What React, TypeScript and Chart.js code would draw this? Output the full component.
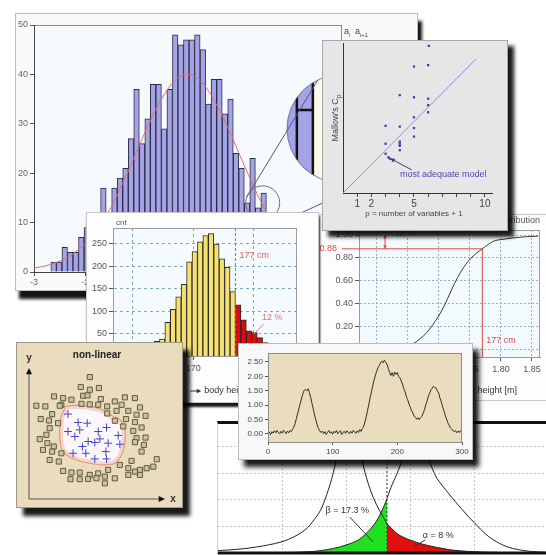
import React, { useEffect, useRef } from 'react';
import { Chart, registerables } from 'chart.js';

Chart.register(...registerables);

const FONT = '"Liberation Sans", Arial, Helvetica, sans-serif';
Chart.defaults.font.family = FONT;
Chart.defaults.font.size = 10;
Chart.defaults.color = '#555';

/* ---------------- Panel 1: histogram with normal fit ---------------- */
const histBinStart = -2.67;
const histBinWidth = 0.108;
const histCounts = [2, 2, 5, 4, 4, 7, 9, 10, 12, 17, 12, 17, 19, 21, 27, 37, 26, 31, 38, 38, 29, 37, 48, 46, 47, 47, 48, 45, 34, 39, 39, 32, 35, 24, 21, 14, 23, 13, 16, 9, 6, 4, 3, 2, 1, 1];
const histTicksX = [-3, -2, -1, 0, 1, 2, 3];
const histTicksY = [0, 10, 20, 30, 40, 50];
const fitX = [-3, -2.75, -2.5, -2.25, -2, -1.75, -1.5, -1.25, -1, -0.75, -0.5, -0.25, 0, 0.25, 0.5, 0.75, 1, 1.25, 1.5, 1.75, 2, 2.25, 2.5, 2.75, 3];
const fitY = [0.8, 1.3, 2.2, 3.6, 5.8, 8.9, 13.0, 18.3, 24.2, 30.1, 35.1, 38.7, 40.0, 38.7, 35.1, 30.1, 24.2, 18.3, 13.0, 8.9, 5.8, 3.6, 2.2, 1.3, 0.8];
// magnifier decoration (data coordinates)
const lensSmall = [1.47, 14];
const lensBig = [3.0, 29];
const lensUpper = [[1.16, 15.2], [2.55, 38.9]];
const lensLower = [[2.12, 11.5], [4.16, 21.1]];
const lensBarEdges = [2.137, 2.45];
const lensBarTop = 32.8;

/* ---------------- Panel 2: body height histogram ---------------- */
const heightBinStart = 160.8;
const heightBinWidth = 0.9;
const heightCounts = [6, 12, 21, 33, 38, 75, 104, 132, 160, 210, 233, 255, 269, 273, 250, 217, 198, 144, 114, 81, 56, 52, 41, 30, 21, 13, 8, 4];
const heightCut = 177;
const heightTicksX = [160, 170, 180];
const heightTicksY = [50, 100, 150, 200, 250];

/* ---------------- Panel 3: Mallow's Cp ---------------- */
const cpP = [6.05, 5, 6, 4, 5, 6, 6, 6, 5, 3, 4, 5, 5, 3, 4, 4, 4, 4, 3, 3.2, 3.3];
const cpValue = [10.3, 8.85, 8.95, 6.85, 6.7, 6.6, 6.15, 5.65, 5.3, 4.7, 4.65, 4.55, 3.95, 3.45, 3.6, 3.45, 3.3, 3.0, 2.75, 2.5, 2.4];
const cpRefLine = [0, 9.4];
const cpTicks = [1, 2, 3, 4, 5, 6, 7, 8, 9, 10];
const cpLabelled = [1, 2, 5, 10];

/* ---------------- Panel 4: cumulative distribution ---------------- */
const cdfX = [1.575, 1.6, 1.62, 1.64, 1.66, 1.67, 1.68, 1.69, 1.7, 1.71, 1.72, 1.73, 1.74, 1.75, 1.76, 1.77, 1.78, 1.79, 1.8, 1.82, 1.84, 1.86];
const cdfY = [0.0, 0.005, 0.01, 0.03, 0.06, 0.1, 0.15, 0.22, 0.3, 0.4, 0.52, 0.63, 0.72, 0.79, 0.84, 0.88, 0.92, 0.95, 0.96, 0.975, 0.985, 0.99];
const cdfTicksX = [1.6, 1.65, 1.7, 1.75, 1.8, 1.85];
const cdfTicksY = [0, 0.2, 0.4, 0.6, 0.8, 1.0];
const cdfCutX = 1.77;
const cdfCutY = 0.88;

/* ---------------- Panel 5: non-linear classes ---------------- */
const sqX = [44.7, 38.1, 44.7, 51.4, 39.8, 43.0, 18.4, 25.1, 31.2, 23.8, 52.8, 70.5, 77.9, 5.4, 12.0, 22.6, 38.6, 44.7, 50.9, 57.5, 63.1, 68.1, 81.6, 17.0, 57.5, 64.4, 73.0, 79.1, 85.7, 8.6, 14.7, 21.4, 63.1, 71.3, 77.9, 15.2, 12.8, 69.3, 76.7, 82.8, 7.9, 13.5, 18.2, 79.1, 85.7, 10.3, 17.0, 23.8, 84.5, 77.9, 15.2, 21.9, 82.8, 93.9, 91.4, 75.4, 66.8, 73.0, 77.9, 81.6, 86.5, 58.2, 25.1, 31.2, 37.3, 44.7, 50.9, 55.8, 63.1, 30.5, 37.3, 43.5, 49.6, 55.8, 73.0, 81.6];
const sqY = [93.1, 85.5, 83.4, 84.7, 78.8, 79.1, 78.3, 77.0, 75.8, 71.9, 76.3, 77.6, 77.0, 71.2, 70.7, 71.2, 72.6, 72.2, 72.0, 70.7, 74.5, 71.9, 69.9, 64.8, 65.3, 67.3, 67.3, 64.3, 63.5, 61.0, 59.9, 57.9, 59.7, 61.0, 58.7, 54.1, 49.0, 55.4, 52.0, 54.6, 45.7, 42.6, 40.1, 46.4, 46.9, 37.5, 36.2, 34.9, 41.3, 43.4, 29.8, 28.6, 36.2, 30.4, 24.7, 29.1, 26.0, 23.5, 20.9, 22.2, 23.5, 22.2, 21.4, 20.2, 20.2, 18.4, 19.6, 17.1, 15.8, 15.1, 15.1, 15.3, 15.8, 12.0, 18.4, 18.4];
const crX = [28.7, 36.1, 42.8, 37.3, 28.7, 33.7, 50.9, 57.0, 65.6, 52.1, 43.5, 48.4, 58.2, 66.8, 39.3, 32.4, 41.8, 56.5, 48.4, 57.0];
const crY = [64.8, 58.4, 57.9, 52.8, 51.5, 47.7, 51.5, 54.6, 48.5, 45.9, 43.9, 43.1, 42.6, 41.8, 40.1, 34.9, 34.9, 36.2, 30.6, 30.6];
const blobX = [27.5, 37.3, 52.1, 59.5, 66.8, 70.5, 70.5, 68.1, 63.1, 54.5, 44.7, 34.9, 27.5, 23.8, 22.6, 23.3, 26.3];
const blobY = [70.7, 71.4, 68.9, 64.3, 60.5, 52.8, 43.9, 33.7, 27.3, 26.0, 27.3, 29.8, 33.7, 38.8, 49.0, 61.7, 68.9];

/* ---------------- Panel 6: signal ---------------- */
const signalStep = 2;
const signalValues = [
  0.02, 0.06, -0.02, 0.08, 0.03, 0.11, 0.04, 0.12, 0.05, 0.00, 0.09, 0.03, 0.13, 0.07, 0.01, 0.10, 0.04, 0.12, 0.08, 0.16,
  0.24, 0.36, 0.55, 0.72, 0.90, 1.07, 1.25, 1.40, 1.52, 1.54, 1.50,
  1.57, 1.44, 1.27, 1.06, 0.86, 0.66, 0.48, 0.32, 0.19, 0.11, 0.05,
  0.10, 0.01, 0.08, -0.02, 0.05, 0.12, 0.03, 0.07, -0.01, 0.09, 0.04, 0.12, 0.01, 0.06, 0.11, -0.02, 0.05, 0.09, 0.02, 0.11, 0.06, 0.00, 0.09, 0.03, 0.13, 0.07, 0.02, 0.11, 0.05, 0.15, 0.09,
  0.19, 0.27, 0.42, 0.60, 0.82, 1.04, 1.27, 1.46, 1.68, 1.86, 2.04, 2.16, 2.30, 2.37, 2.47, 2.53, 2.47, 2.56, 2.49,
  2.42, 2.28, 2.14, 2.03, 2.13, 2.00, 2.15, 2.07, 2.13, 1.99, 1.95, 1.84, 1.73, 1.57, 1.46, 1.29, 1.19, 1.04, 0.93, 0.81, 0.73, 0.61, 0.58, 0.51, 0.56, 0.49,
  0.57, 0.61, 0.73, 0.84, 1.01, 1.14, 1.31, 1.41, 1.53, 1.59, 1.66, 1.61,
  1.59, 1.49, 1.41, 1.24, 1.11, 0.94, 0.81, 0.65, 0.53, 0.39, 0.31, 0.21, 0.17, 0.11, 0.09, 0.11, 0.04, 0.10, 0.05, 0.12, 0.07,
];
const signalTicksX = [0, 100, 200, 300];
const signalTicksY = [0, 0.5, 1.0, 1.5, 2.0, 2.5];

/* ---------------- Panel 7: test errors ---------------- */
const bellX = [-2.0, -1.8, -1.6, -1.4, -1.2, -1.0, -0.8, -0.6, -0.5, -0.4, -0.3, -0.2, -0.1, 0, 0.1, 0.2, 0.3, 0.4, 0.5, 0.6, 0.64, 0.7, 0.8, 0.9, 1.0, 1.1, 1.2, 1.3, 1.4, 1.5, 1.6, 1.7, 1.8, 1.9, 2.0, 2.1, 2.2, 2.3, 2.4, 2.5, 2.6, 2.8, 3.0, 3.14];
const h0Density = [0.018, 0.024, 0.032, 0.045, 0.062, 0.085, 0.125, 0.19, 0.25, 0.32, 0.44, 0.6, 0.82, 1.05, 1.1, 0.82, 0.6, 0.45, 0.34, 0.255, 0.22, 0.19, 0.145, 0.118, 0.098, 0.08, 0.066, 0.054, 0.044, 0.035, 0.026, 0.02, 0.016, 0.012, 0.01, 0.008, 0.006, 0.005, 0.004, 0.003, 0.002, 0.001, 0.001, 0];
const h1Density = [0, 0, 0, 0.001, 0.002, 0.003, 0.005, 0.009, 0.012, 0.018, 0.025, 0.034, 0.045, 0.06, 0.077, 0.1, 0.14, 0.19, 0.26, 0.36, 0.41, 0.49, 0.6, 0.73, 0.92, 1.08, 0.88, 0.7, 0.58, 0.51, 0.45, 0.39, 0.335, 0.28, 0.23, 0.18, 0.135, 0.1, 0.072, 0.05, 0.035, 0.017, 0.008, 0.005];
const criticalValue = 0.64;
const testGridX = [-1, 0, 1, 2];
const testGridY = [0.2, 0.4, 0.6, 0.8];

/* ---------------- helpers ---------------- */
function txt(ctx: any, s: string, x: number, y: number, o: any = {}) {
  ctx.save();
  ctx.fillStyle = o.color || '#555';
  ctx.font = `${o.bold ? 'bold ' : ''}${o.size || 10}px ${FONT}`;
  ctx.textAlign = o.align || 'left';
  ctx.textBaseline = o.baseline || 'middle';
  ctx.fillText(s, x, y);
  ctx.restore();
}
function line(ctx: any, x1: number, y1: number, x2: number, y2: number, color: string, w = 1, dash: number[] = []) {
  ctx.save();
  ctx.strokeStyle = color;
  ctx.lineWidth = w;
  ctx.setLineDash(dash);
  ctx.beginPath();
  ctx.moveTo(x1, y1);
  ctx.lineTo(x2, y2);
  ctx.stroke();
  ctx.restore();
}
function head(ctx: any, x1: number, y1: number, x2: number, y2: number, color: string, size = 5) {
  const a = Math.atan2(y2 - y1, x2 - x1);
  ctx.save();
  ctx.fillStyle = color;
  ctx.beginPath();
  ctx.moveTo(x2, y2);
  ctx.lineTo(x2 - size * Math.cos(a - 0.45), y2 - size * Math.sin(a - 0.45));
  ctx.lineTo(x2 - size * Math.cos(a + 0.45), y2 - size * Math.sin(a + 0.45));
  ctx.closePath();
  ctx.fill();
  ctx.restore();
}
function areaFill(ctx: any, a: any, color: string, frame?: string) {
  ctx.save();
  ctx.fillStyle = color;
  ctx.fillRect(a.left, a.top, a.right - a.left, a.bottom - a.top);
  if (frame) {
    ctx.strokeStyle = frame;
    ctx.lineWidth = 1;
    ctx.strokeRect(a.left + 0.5, a.top + 0.5, a.right - a.left - 1, a.bottom - a.top - 1);
  }
  ctx.restore();
}
const fixW = (w: number) => (s: any) => { s.width = w; };
const fixH = (h: number) => (s: any) => { s.height = h; };
const setTicks = (vals: number[]) => (s: any) => { s.ticks = vals.map((v) => ({ value: v })); };
const baseOptions = (padding: any) => ({
  responsive: false,
  animation: false,
  layout: { autoPadding: false, padding },
  plugins: { legend: { display: false }, tooltip: { enabled: false } },
});

/* ---------------- chart configs ---------------- */
function histConfig() {
  const bars = histCounts.map((c, i) => ({ x: histBinStart + (i + 0.5) * histBinWidth, y: c }));
  const fit = fitX.map((x, i) => ({ x, y: fitY[i] }));
  const decor = {
    id: 'histDecor',
    beforeDraw(chart: any) {
      const { ctx, chartArea: a } = chart;
      areaFill(ctx, a, '#f6f9fd');
      line(ctx, a.left, a.top + 0.5, a.right + 0.5, a.top + 0.5, '#8a8a8a');
      line(ctx, a.right + 0.5, a.top, a.right + 0.5, a.bottom, '#8a8a8a');
    },
    afterDraw(chart: any) {
      const { ctx, scales: { x, y } } = chart;
      const px = (v: number) => x.getPixelForValue(v);
      const py = (v: number) => y.getPixelForValue(v);
      const bx = px(lensBig[0]), by = py(lensBig[1]), br = 54;
      ctx.save();
      ctx.beginPath();
      ctx.arc(bx, by, br, 0, Math.PI * 2);
      ctx.clip();
      ctx.fillStyle = '#fcf9e8';
      ctx.fillRect(bx - br, by - br, br * 2, br * 2);
      ctx.fillStyle = '#a3a3e6';
      ctx.fillRect(bx - br, by - br, px(lensBarEdges[1]) - (bx - br), br * 2);
      line(ctx, px(lensBarEdges[0]), by - br, px(lensBarEdges[0]), by + br, '#111', 2.5);
      line(ctx, px(lensBarEdges[1]), by - br, px(lensBarEdges[1]), by + br, '#111', 2.5);
      line(ctx, px(lensBarEdges[0]), py(lensBarTop), px(lensBarEdges[1]), py(lensBarTop), '#111', 2.5);
      ctx.restore();
      ctx.save();
      ctx.strokeStyle = '#6d7aa6';
      ctx.lineWidth = 1;
      ctx.beginPath();
      ctx.arc(bx, by, br, 0, Math.PI * 2);
      ctx.stroke();
      ctx.beginPath();
      ctx.strokeStyle = '#707070';
      ctx.arc(px(lensSmall[0]), py(lensSmall[1]), 17, 0, Math.PI * 2);
      ctx.stroke();
      ctx.restore();
      line(ctx, px(lensUpper[0][0]), py(lensUpper[0][1]), px(lensUpper[1][0]), py(lensUpper[1][1]), '#4a5a90');
      line(ctx, px(lensLower[0][0]), py(lensLower[0][1]), px(lensLower[1][0]), py(lensLower[1][1]), '#4a5a90');
      const a = chart.chartArea;
      txt(ctx, 'a', a.right + 3, a.top + 7, { size: 9, color: '#444' });
      txt(ctx, 'i', a.right + 8, a.top + 10, { size: 6, color: '#444' });
      txt(ctx, 'a', a.right + 14, a.top + 7, { size: 9, color: '#444' });
      txt(ctx, 'i+1', a.right + 19, a.top + 10, { size: 6, color: '#444' });
    },
  };
  return {
    type: 'bar',
    data: {
      datasets: [
        { type: 'line', data: fit, borderColor: '#e07070', borderWidth: 1, pointRadius: 0, tension: 0.4, order: 0 },
        { type: 'bar', data: bars, backgroundColor: '#a3a3e6', borderColor: '#2b2b45', borderWidth: 1, barPercentage: 1, categoryPercentage: 1, order: 1 },
      ],
    },
    options: {
      ...baseOptions({ left: 0, right: 76, top: 11, bottom: 0 }),
      scales: {
        x: {
          type: 'linear', min: -3, max: 3, offset: false,
          afterFit: fixH(18), afterBuildTicks: setTicks(histTicksX),
          ticks: { color: '#666', padding: 1, maxRotation: 0, font: { size: 9 } },
          grid: { drawOnChartArea: false, tickLength: 4, color: '#555', offset: false },
          border: { color: '#444' },
        },
        y: {
          min: 0, max: 50,
          afterFit: fixW(18), afterBuildTicks: setTicks(histTicksY),
          ticks: { color: '#666', padding: 2, font: { size: 9 } },
          grid: { drawOnChartArea: false, tickLength: 4, color: '#555' },
          border: { color: '#444' },
        },
      },
    },
    plugins: [decor],
  };
}

function heightConfig() {
  const bars = heightCounts.map((c, i) => ({ x: heightBinStart + (i + 0.5) * heightBinWidth, y: c }));
  const colors = bars.map((b) => (b.x > heightCut ? '#dd0b0b' : '#f4e170'));
  const decor = {
    id: 'heightDecor',
    beforeDraw(chart: any) { areaFill(chart.ctx, chart.chartArea, '#f4fafd'); },
    afterDraw(chart: any) {
      const { ctx, chartArea: a, scales: { x, y } } = chart;
      ctx.save();
      ctx.strokeStyle = '#9a9a9a';
      ctx.strokeRect(a.left + 0.5, a.top + 0.5, a.right - a.left - 1, a.bottom - a.top);
      ctx.restore();
      const cx = x.getPixelForValue(heightCut);
      line(ctx, cx, a.top, cx, a.bottom, '#d45a5a', 1, [3, 2]);
      txt(ctx, 'cnt', a.left + 3, a.top - 5, { size: 8, color: '#555' });
      txt(ctx, '177 cm', cx + 4, y.getPixelForValue(225), { size: 9, color: '#d86464' });
      txt(ctx, '12 %', x.getPixelForValue(181.4), y.getPixelForValue(85), { size: 9, color: '#d87878' });
      line(ctx, x.getPixelForValue(181.7), y.getPixelForValue(72), x.getPixelForValue(180.0), y.getPixelForValue(48), '#c88');
      const ax = x.getPixelForValue(170);
      const ay = a.bottom + 35;
      line(ctx, ax - 3, ay, ax + 6, ay, '#333');
      head(ctx, ax - 3, ay, ax + 8, ay, '#333', 5);
      txt(ctx, 'body height [cm]', ax + 11, ay, { size: 9, color: '#333' });
    },
  };
  return {
    type: 'bar',
    data: { datasets: [{ data: bars, backgroundColor: colors, borderColor: '#2a2a2a', borderWidth: 1, barPercentage: 1, categoryPercentage: 1 }] },
    options: {
      ...baseOptions({ left: 0, right: 21, top: 15, bottom: 0 }),
      scales: {
        x: {
          type: 'linear', min: 156.7, max: 187.2, offset: false,
          afterFit: fixH(46), afterBuildTicks: setTicks(heightTicksX),
          ticks: { color: '#555', padding: 3, maxRotation: 0, font: { size: 9 } },
          grid: { color: '#86a6c6', tickColor: '#555', tickLength: 4, offset: false },
          border: { color: '#888', dash: [3, 3] },
        },
        y: {
          min: 0, max: 285.7,
          afterFit: fixW(26), afterBuildTicks: setTicks(heightTicksY),
          ticks: { color: '#555', padding: 2, font: { size: 9 } },
          grid: { color: '#86a6c6', tickColor: '#555', tickLength: 4 },
          border: { color: '#888', dash: [3, 3] },
        },
      },
    },
    plugins: [decor],
  };
}

function cpConfig() {
  const pts = cpP.map((p, i) => ({ x: p, y: cpValue[i] }));
  const ref = cpRefLine.map((v) => ({ x: v, y: v }));
  const decor = {
    id: 'cpDecor',
    afterDraw(chart: any) {
      const { ctx, chartArea: a, scales: { x, y } } = chart;
      txt(ctx, 'p = number of variables + 1', x.getPixelForValue(5), a.bottom + 21, { size: 8, color: '#444', align: 'center' });
      ctx.save();
      ctx.translate(a.left - 7, (a.top + a.bottom) / 2);
      ctx.rotate(-Math.PI / 2);
      ctx.font = `9px ${FONT}`;
      const main = "Mallow's C";
      const w1 = ctx.measureText(main).width;
      ctx.font = `7px ${FONT}`;
      const w2 = ctx.measureText('p').width;
      const s0 = -(w1 + w2) / 2;
      ctx.fillStyle = '#444';
      ctx.textBaseline = 'middle';
      ctx.font = `9px ${FONT}`;
      ctx.fillText(main, s0, 0);
      ctx.font = `7px ${FONT}`;
      ctx.fillText('p', s0 + w1, 3);
      ctx.restore();
      txt(ctx, 'most adequate model', x.getPixelForValue(4.01), y.getPixelForValue(1.27), { size: 9, color: '#4a4ab8' });
      const x1 = x.getPixelForValue(4.84), y1 = y.getPixelForValue(1.62);
      const x2 = x.getPixelForValue(3.33), y2 = y.getPixelForValue(2.42);
      line(ctx, x1, y1, x2, y2, '#3a3a80');
      head(ctx, x1, y1, x2, y2, '#3a3a80', 5);
    },
  };
  return {
    type: 'scatter',
    data: {
      datasets: [
        { data: pts, pointStyle: 'rect', pointRadius: 1.6, backgroundColor: '#3c3cb4', borderColor: '#3c3cb4', borderWidth: 0, order: 0 },
        { data: ref, showLine: true, borderColor: '#8d8ddc', borderWidth: 1, pointRadius: 0, order: 1 },
      ],
    },
    options: {
      ...baseOptions({ left: 0, right: 15, top: 2, bottom: 0 }),
      scales: {
        x: {
          type: 'linear', min: 0, max: 10.5,
          afterFit: fixH(37), afterBuildTicks: setTicks(cpTicks),
          ticks: { color: '#444', padding: 1, maxRotation: 0, font: { size: 10 }, callback: (v: any) => (cpLabelled.includes(v) ? String(v) : '') },
          grid: { drawOnChartArea: false, tickLength: 4, color: '#444' },
          border: { color: '#333' },
        },
        y: {
          type: 'linear', min: 0, max: 10.5,
          afterFit: fixW(20),
          ticks: { display: false },
          grid: { drawOnChartArea: false, drawTicks: false },
          border: { color: '#333' },
        },
      },
    },
    plugins: [decor],
  };
}

function cdfConfig() {
  const pts = cdfX.map((x, i) => ({ x, y: cdfY[i] }));
  const decor = {
    id: 'cdfDecor',
    beforeDraw(chart: any) { areaFill(chart.ctx, chart.chartArea, '#f3fafd'); },
    afterDraw(chart: any) {
      const { ctx, chartArea: a, scales: { x, y } } = chart;
      ctx.save();
      ctx.strokeStyle = '#9a9a9a';
      ctx.strokeRect(a.left + 0.5, a.top + 0.5, a.right - a.left - 1, a.bottom - a.top);
      ctx.restore();
      const cx = x.getPixelForValue(cdfCutX);
      const cy = y.getPixelForValue(cdfCutY);
      line(ctx, a.left - 17, cy, cx, cy, '#e04848');
      line(ctx, cx, cy, cx, a.bottom, '#e04848');
      txt(ctx, '0.88', a.left - 22, cy, { size: 9, color: '#e04848', align: 'right' });
      txt(ctx, '177 cm', cx + 4, y.getPixelForValue(0.08), { size: 9, color: '#e04848' });
      const ax = x.getPixelForValue(1.613);
      const yTop = y.getPixelForValue(1.0), yBot = cy;
      line(ctx, ax, yTop, ax, yBot, '#e04848');
      head(ctx, ax, yBot, ax, yTop, '#e04848', 4);
      head(ctx, ax, yTop, ax, yBot, '#e04848', 4);
      txt(ctx, '12 %', x.getPixelForValue(1.629), y.getPixelForValue(1.017), { size: 9, color: '#e04848' });
      txt(ctx, 'Cumulative distribution', a.right, a.top - 9, { size: 9, color: '#555', align: 'right' });
      const ex = 198, ey = a.bottom + 34;
      txt(ctx, 'body height [m]', ex, ey, { size: 9, color: '#333', align: 'right' });
    },
  };
  return {
    type: 'line',
    data: { datasets: [{ data: pts, borderColor: '#3a3a3a', borderWidth: 1, pointRadius: 0, cubicInterpolationMode: 'monotone' }] },
    options: {
      ...baseOptions({ left: 0, right: 6, top: 15, bottom: 0 }),
      scales: {
        x: {
          type: 'linear', min: 1.571, max: 1.863,
          afterFit: fixH(43), afterBuildTicks: setTicks(cdfTicksX),
          ticks: { color: '#555', padding: 3, maxRotation: 0, font: { size: 9 }, callback: (v: any) => Number(v).toFixed(2) },
          grid: { color: '#8fb0d0', tickColor: '#555', tickLength: 4 },
          border: { color: '#888', dash: [2, 2] },
        },
        y: {
          min: -0.061, max: 1.0435,
          afterFit: fixW(40), afterBuildTicks: setTicks(cdfTicksY),
          ticks: { color: '#555', padding: 2, font: { size: 9 }, callback: (v: any) => Number(v).toFixed(2) },
          grid: { color: '#8fb0d0', tickColor: '#555', tickLength: 4 },
          border: { color: '#888', dash: [2, 2] },
        },
      },
    },
    plugins: [decor],
  };
}

function smoothClosed(ctx: any, pts: number[][]) {
  const n = pts.length;
  ctx.beginPath();
  ctx.moveTo(pts[0][0], pts[0][1]);
  for (let i = 0; i < n; i++) {
    const p0 = pts[(i - 1 + n) % n], p1 = pts[i], p2 = pts[(i + 1) % n], p3 = pts[(i + 2) % n];
    ctx.bezierCurveTo(
      p1[0] + (p2[0] - p0[0]) / 6, p1[1] + (p2[1] - p0[1]) / 6,
      p2[0] - (p3[0] - p1[0]) / 6, p2[1] - (p3[1] - p1[1]) / 6,
      p2[0], p2[1]
    );
  }
  ctx.closePath();
}

function classConfig() {
  const squares = sqX.map((x, i) => ({ x, y: sqY[i] }));
  const crosses = crX.map((x, i) => ({ x, y: crY[i] }));
  const decor = {
    id: 'classDecor',
    beforeDatasetsDraw(chart: any) {
      const { ctx, scales: { x, y } } = chart;
      const pts = blobX.map((bx, i) => [x.getPixelForValue(bx), y.getPixelForValue(blobY[i])]);
      ctx.save();
      smoothClosed(ctx, pts);
      ctx.fillStyle = '#fbf7fb';
      ctx.fill();
      ctx.clip();
      ctx.strokeStyle = 'rgba(238,170,160,0.45)';
      ctx.lineWidth = 7;
      ctx.stroke();
      ctx.restore();
      ctx.save();
      smoothClosed(ctx, pts);
      ctx.strokeStyle = '#e09a70';
      ctx.lineWidth = 1.2;
      ctx.stroke();
      ctx.restore();
    },
    afterDraw(chart: any) {
      const { ctx, chartArea: a, scales: { x, y } } = chart;
      const ox = x.getPixelForValue(0), oy = y.getPixelForValue(0);
      const ty = y.getPixelForValue(100), rx = x.getPixelForValue(100);
      line(ctx, ox, oy, ox, ty + 4, '#555');
      head(ctx, ox, oy, ox, ty, '#111', 7);
      line(ctx, ox, oy, rx - 4, oy, '#555');
      head(ctx, ox, oy, rx, oy, '#111', 7);
      txt(ctx, 'y', ox, ty - 10, { size: 10, bold: true, color: '#333', align: 'center' });
      txt(ctx, 'x', rx + 8, oy, { size: 10, bold: true, color: '#333', align: 'center' });
      txt(ctx, 'non-linear', (a.left + a.right) / 2, 12, { size: 10, bold: true, color: '#222', align: 'center' });
    },
  };
  return {
    type: 'scatter',
    data: {
      datasets: [
        { data: crosses, pointStyle: 'cross', pointRadius: 4, borderColor: '#4444c4', borderWidth: 1, order: 0 },
        { data: squares, pointStyle: 'rect', pointRadius: 3.6, backgroundColor: '#cfc39f', borderColor: '#5e5a40', borderWidth: 1, order: 1 },
      ],
    },
    options: {
      ...baseOptions({ left: 12, right: 17, top: 25, bottom: 8 }),
      scales: {
        x: { type: 'linear', min: 0, max: 100, display: false },
        y: { type: 'linear', min: 0, max: 100, display: false },
      },
    },
    plugins: [decor],
  };
}

function signalConfig() {
  const pts = signalValues.map((v, i) => ({ x: i * signalStep, y: v }));
  const decor = {
    id: 'signalDecor',
    beforeDraw(chart: any) { areaFill(chart.ctx, chart.chartArea, '#e9ddbd'); },
    afterDraw(chart: any) {
      const { ctx, chartArea: a } = chart;
      ctx.save();
      ctx.strokeStyle = '#8a8a8a';
      ctx.strokeRect(a.left + 0.5, a.top + 0.5, a.right - a.left - 1, a.bottom - a.top);
      ctx.restore();
    },
  };
  return {
    type: 'line',
    data: { datasets: [{ data: pts, borderColor: '#2e2e2e', borderWidth: 1, pointRadius: 0 }] },
    options: {
      ...baseOptions({ left: 0, right: 10, top: 9, bottom: 0 }),
      scales: {
        x: {
          type: 'linear', min: 0, max: 300,
          afterFit: fixH(17), afterBuildTicks: setTicks(signalTicksX),
          ticks: { color: '#444', padding: 2, maxRotation: 0, font: { size: 8 } },
          grid: { drawOnChartArea: false, tickLength: 3, color: '#555' },
          border: { color: '#666' },
        },
        y: {
          min: -0.28, max: 2.81,
          afterFit: fixW(29), afterBuildTicks: setTicks(signalTicksY),
          ticks: { color: '#444', padding: 2, font: { size: 8 }, callback: (v: any) => Number(v).toFixed(2) },
          grid: { drawOnChartArea: false, tickLength: 3, color: '#555' },
          border: { color: '#666' },
        },
      },
    },
    plugins: [decor],
  };
}

function testConfig() {
  const h0 = bellX.map((x, i) => ({ x, y: h0Density[i] }));
  const h1 = bellX.map((x, i) => ({ x, y: h1Density[i] }));
  const beta = h1.filter((p) => p.x <= criticalValue + 1e-9);
  const alpha = h0.filter((p) => p.x >= criticalValue - 1e-9);
  const decor = {
    id: 'testDecor',
    afterDraw(chart: any) {
      const { ctx, chartArea: a, scales: { x, y } } = chart;
      line(ctx, a.left, y.getPixelForValue(0), a.right, y.getPixelForValue(0), '#111', 3);
      txt(ctx, 'β = 17.3 %', x.getPixelForValue(0.02), y.getPixelForValue(0.32), { size: 9, color: '#333', align: 'center' });
      line(ctx, x.getPixelForValue(0.06), y.getPixelForValue(0.27), x.getPixelForValue(0.42), y.getPixelForValue(0.085), '#333');
      txt(ctx, 'α = 8 %', x.getPixelForValue(1.2), y.getPixelForValue(0.135), { size: 9, color: '#333' });
      line(ctx, x.getPixelForValue(1.24), y.getPixelForValue(0.1), x.getPixelForValue(1.06), y.getPixelForValue(0.045), '#333');
    },
  };
  const curve = { borderWidth: 1, pointRadius: 0, cubicInterpolationMode: 'monotone' };
  return {
    type: 'line',
    data: {
      datasets: [
        { ...curve, data: h0, borderColor: '#222', fill: false, order: 0 },
        { ...curve, data: h1, borderColor: '#222', fill: false, order: 0 },
        { data: [{ x: criticalValue, y: 0 }, { x: criticalValue, y: 0.97 }], borderColor: '#333', borderWidth: 1, borderDash: [2, 2], pointRadius: 0, order: 0 },
        { ...curve, data: beta, borderWidth: 0, borderColor: 'rgba(0,0,0,0)', backgroundColor: '#21e021', fill: 'origin', order: 1 },
        { ...curve, data: alpha, borderWidth: 0, borderColor: 'rgba(0,0,0,0)', backgroundColor: '#e01010', fill: 'origin', order: 1 },
      ],
    },
    options: {
      ...baseOptions({ left: 0, right: 0, top: 0, bottom: 0 }),
      scales: {
        x: {
          type: 'linear', min: -2.0, max: 3.125,
          afterFit: fixH(0), afterBuildTicks: setTicks(testGridX),
          ticks: { display: false },
          grid: { color: '#c4c4c4', drawTicks: false },
          border: { display: false, dash: [2, 2] },
        },
        y: {
          min: -0.015, max: 0.97,
          afterFit: fixW(0), afterBuildTicks: setTicks(testGridY),
          ticks: { display: false },
          grid: { color: '#c4c4c4', drawTicks: false },
          border: { display: false, dash: [2, 2] },
        },
      },
    },
    plugins: [decor],
  };
}

/* ---------------- components ---------------- */
function ChartCanvas({ left, top, width, height, make }: { left: number; top: number; width: number; height: number; make: () => any }) {
  const ref = useRef<HTMLCanvasElement | null>(null);
  useEffect(() => {
    if (!ref.current) return;
    const chart = new Chart(ref.current, make());
    return () => chart.destroy();
  }, []);
  return (
    <canvas
      ref={ref}
      width={width}
      height={height}
      style={{ position: 'absolute', left, top, width, height, display: 'block' }}
    />
  );
}

function Frame({ style }: { style: React.CSSProperties }) {
  return <div style={{ position: 'absolute', boxSizing: 'border-box', ...style }} />;
}

export default function App() {
  return (
    <div style={{ position: 'absolute', left: 0, top: 0, width: 546, height: 555, overflow: 'hidden', background: '#ffffff', fontFamily: FONT }}>
      {/* Panel 1 */}
      <Frame style={{ left: 15, top: 13, width: 403, height: 278, border: '1px solid #bdbdbd', background: '#fafafa', boxShadow: '4px 8px 3px rgba(0,0,0,0.92)' }} />
      <ChartCanvas left={16} top={14} width={401} height={276} make={histConfig} />

      {/* Panel 4 */}
      <Frame style={{ left: 318, top: 214, width: 240, height: 187, border: '1px solid #c8c8c8', background: '#fdfdfd' }} />
      <ChartCanvas left={319} top={215} width={227} height={185} make={cdfConfig} />

      {/* Panel 2 */}
      <Frame style={{ left: 86, top: 212, width: 233, height: 191, border: '1px solid #c4c4c4', background: '#fdfdfd', boxShadow: '1px 4px 2px rgba(0,0,0,0.9)' }} />
      <ChartCanvas left={87} top={213} width={231} height={189} make={heightConfig} />

      {/* Panel 3 */}
      <Frame style={{ left: 322, top: 40, width: 186, height: 191, border: '1px solid #a8a8a8', background: '#e6e6e6', boxShadow: '6px 6px 4px rgba(0,0,0,0.9)' }} />
      <ChartCanvas left={323} top={41} width={184} height={189} make={cpConfig} />

      {/* Panel 7 */}
      <Frame style={{ left: 217, top: 421, width: 340, height: 140, borderTop: '3px solid #111', borderLeft: '1px solid #cfcfcf', background: '#ffffff' }} />
      <ChartCanvas left={218} top={424} width={328} height={131} make={testConfig} />

      {/* Panel 5 */}
      <Frame style={{ left: 16, top: 342, width: 167, height: 166, border: '1px solid #9a9a8a', background: '#e9dcbf', boxShadow: '7px 8px 4px rgba(0,0,0,0.9)' }} />
      <ChartCanvas left={17} top={343} width={165} height={164} make={classConfig} />

      {/* Panel 6 */}
      <Frame style={{ left: 238, top: 343, width: 235, height: 117, border: '1px solid #bbbbbb', background: '#f8f8f8', boxShadow: '6px 7px 5px rgba(0,0,0,0.9)' }} />
      <ChartCanvas left={239} top={344} width={233} height={115} make={signalConfig} />
    </div>
  );
}
